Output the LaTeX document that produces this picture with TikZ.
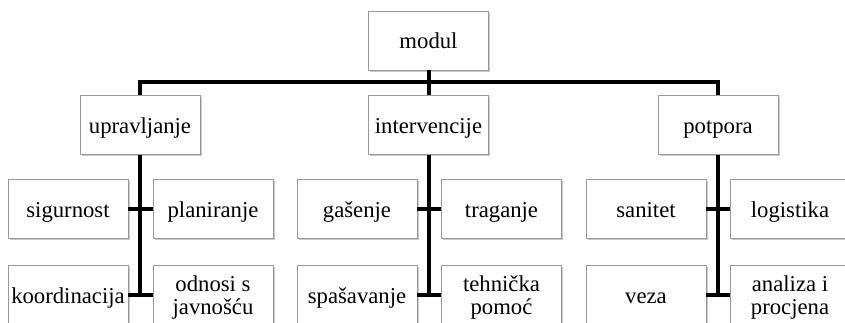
\documentclass[tikz,border=0pt]{standalone}
\usepackage{fontspec}
\setmainfont{Liberation Serif}
\usetikzlibrary{shadows}
\tikzset{
  box/.style={draw=black!40, line width=0.9pt, fill=white,
    minimum width=120pt, minimum height=59pt, inner sep=0pt,
    align=center, font=\fontsize{22.7}{23}\selectfont,
    text height=20pt, text depth=4pt,
    drop shadow={shadow xshift=1.6pt, shadow yshift=-1.8pt, opacity=0.35, fill=black!60}},
  twoline/.style={box, text height=43pt},
  conn/.style={line width=4pt, black}
}
\begin{document}
\begin{tikzpicture}[x=1pt, y=-1pt]
\clip (0,0) rectangle (845,322);
\fill[white] (0,0) rectangle (845,322);

% top level
\node[box] (modul) at (428.5,40.5) {modul};

% second level
\node[box] (upr) at (140,125) {upravljanje};
\node[box] (int) at (428.5,125) {intervencije};
\node[box] (pot) at (718,125) {potpora};

% leaves under upravljanje
\node[box] (sig)   at (68,209)  {sigurnost};
\node[box] (plan)  at (213,209) {planiranje};
\node[box] (koord) at (68,295)  {koordinacija};
\node[twoline] (odn) at (213,295) {odnosi s\\javnošću};

% leaves under intervencije
\node[box] (gas)  at (357,209)   {gašenje};
\node[box] (trag) at (501.5,209) {traganje};
\node[box] (spas) at (357,295)   {spašavanje};
\node[twoline] (teh) at (501.5,295) {tehnička\\pomoć};

% leaves under potpora
\node[box] (san)  at (646,209) {sanitet};
\node[box] (log)  at (790,209) {logistika};
\node[box] (veza) at (646,295) {veza};
\node[twoline] (anal) at (790,295) {analiza i\\procjena};

% bus from the top box to the second level
\coordinate (bus) at (428.5,82);
\draw[conn] (modul.south) -- (bus);
\draw[conn] (bus) -| (upr.north);
\draw[conn] (bus) -| (pot.north);
\draw[conn] (bus) -- (int.north);

% spines and stubs
\foreach \p/\a/\b/\c/\d in {upr/sig/plan/koord/odn, int/gas/trag/spas/teh, pot/san/log/veza/anal}{
  \draw[conn] (\p.south) -- (\p.south |- \d.west);
  \draw[conn] (\a.east) -- (\b.west);
  \draw[conn] (\c.east) -- (\d.west);
}
\end{tikzpicture}
\end{document}
